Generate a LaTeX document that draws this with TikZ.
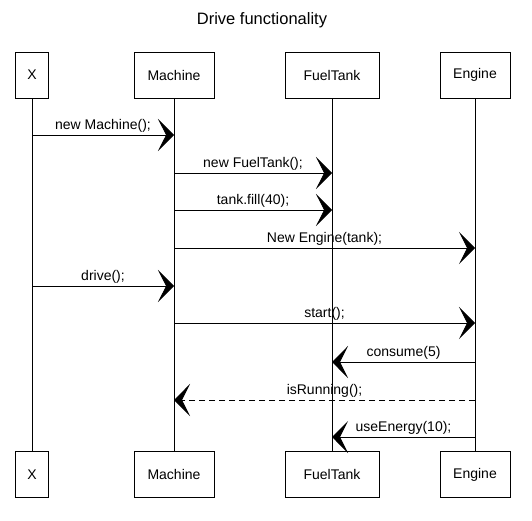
\documentclass[tikz,border=0pt]{standalone}
\usepackage{fontspec}
\setmainfont{Liberation Sans}
\usetikzlibrary{arrows.meta, positioning}

\begin{document}
\begin{tikzpicture}[
  x=1pt, y=-1pt,
  actor/.style={rectangle, draw, line width=0.9pt, minimum height=46pt, inner sep=0pt, font=\fontsize{14}{16}\selectfont},
  life/.style={draw, line width=0.8pt},
  msg/.style={draw, line width=0.9pt, -{Stealth[length=16pt, width=32pt, inset=8pt]}},
  reply/.style={msg, dash pattern=on 6pt off 4pt},
  lbl/.style={above=1.5pt, inner sep=1pt, font=\fontsize{14}{16}\selectfont}
]
\useasboundingbox (0,0) rectangle (532,521);
\node[font=\fontsize{16.5}{19}\selectfont] (title) at (262,20) {Drive functionality};
% participants, top and bottom
\node[actor, minimum width=33pt] (xT) at (32,75) {X};
\node[actor, minimum width=80pt] (machT) at (174,75) {Machine};
\node[actor, minimum width=94pt] (tankT) at (332,75) {FuelTank};
\node[actor, minimum width=70pt] (engT) at (475,75) {Engine};
\node[actor, minimum width=33pt] (xB) at (32,474.5) {X};
\node[actor, minimum width=80pt] (machB) at (174,474.5) {Machine};
\node[actor, minimum width=94pt] (tankB) at (332,474.5) {FuelTank};
\node[actor, minimum width=70pt] (engB) at (475,474.5) {Engine};
% lifelines
\draw[life] (xT) -- (xB);
\draw[life] (machT) -- (machB);
\draw[life] (tankT) -- (tankB);
\draw[life] (engT) -- (engB);
% messages
\coordinate (m1) at (0,135);
\coordinate (m2) at (0,173);
\coordinate (m3) at (0,210);
\coordinate (m4) at (0,248);
\coordinate (m5) at (0,286);
\coordinate (m6) at (0,323);
\coordinate (m7) at (0,362);
\coordinate (m8) at (0,400);
\coordinate (m9) at (0,437);
\draw[msg] (xT |- m1) -- node[lbl] {new Machine();} (machT |- m1);
\draw[msg] (machT |- m2) -- node[lbl] {new FuelTank();} (tankT |- m2);
\draw[msg] (machT |- m3) -- node[lbl] {tank.fill(40);} (tankT |- m3);
\draw[msg] (machT |- m4) -- node[lbl] {New Engine(tank);} (engT |- m4);
\draw[msg] (xT |- m5) -- node[lbl] {drive();} (machT |- m5);
\draw[msg] (machT |- m6) -- node[lbl] {start();} (engT |- m6);
\draw[msg] (engT |- m7) -- node[lbl] {consume(5)} (tankT |- m7);
\draw[reply] (engT |- m8) -- node[lbl] {isRunning();} (machT |- m8);
\draw[msg] (engT |- m9) -- node[lbl] {useEnergy(10);} (tankT |- m9);
\end{tikzpicture}
\end{document}
